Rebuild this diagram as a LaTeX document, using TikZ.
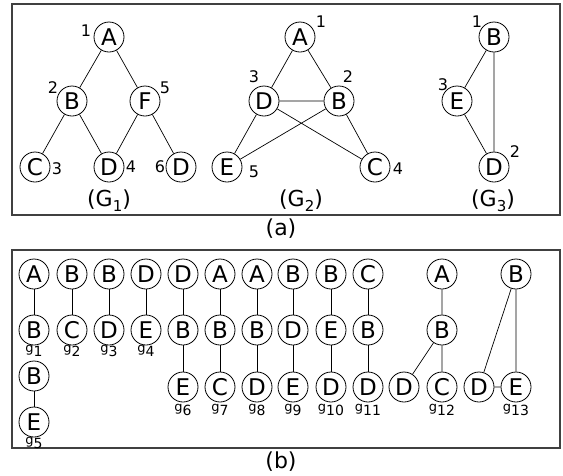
\documentclass[tikz,border=0pt]{standalone}
\usepackage{fontspec}
\setmainfont{DejaVu Sans}
\begin{document}
\begin{tikzpicture}[x=1pt,y=-1pt,
  vtx/.style={circle,draw,line width=0.8pt,minimum size=30pt,inner sep=0pt,font=\fontsize{23}{23}\selectfont},
  num/.style={font=\fontsize{16}{16}\selectfont,inner sep=0pt},
  glab/.style={font=\fontsize{22}{22}\selectfont,inner sep=0pt},
  slab/.style={font=\fontsize{13}{13}\selectfont,inner sep=0pt},
  edge/.style={line width=0.7pt},
  frame/.style={draw=black!75,line width=1.2pt}]
\useasboundingbox (0,0) rectangle (563,475);
\draw[frame] (12,4) rectangle (560,215);
\draw[frame] (12,250) rectangle (560,448);
\newcommand{\gsub}[1]{g\raisebox{-0.5ex}{\fontsize{14}{14}\selectfont #1}}
\newcommand{\Gsub}[1]{(G\raisebox{-0.4ex}{\fontsize{15}{15}\selectfont #1})}
% G1
\node[vtx] (a1) at (109,37) {A};
\node[vtx] (b1) at (72,101) {B};
\node[vtx] (f1) at (145,101) {F};
\node[vtx] (c1) at (35,167) {C};
\node[vtx] (d1) at (109,167) {D};
\node[vtx] (e1) at (181,167) {D};
\draw[edge] (a1)--(b1) (a1)--(f1) (b1)--(c1) (b1)--(d1) (f1)--(d1) (f1)--(e1);
\node[num] (n11) at (86,31) {1};
\node[num] (n12) at (53,88) {2};
\node[num] (n15) at (165,88) {5};
\node[num] (n13) at (57,169) {3};
\node[num] (n14) at (131,167) {4};
\node[num] (n16) at (160,167) {6};
\node[glab] (lg1) at (109,201) {\Gsub{1}};
% G2
\node[vtx] (a2) at (300,37) {A};
\node[vtx] (b2) at (339,101) {B};
\node[vtx] (d2) at (264,101) {D};
\node[vtx] (e2) at (227,167) {E};
\node[vtx] (c2) at (375,167) {C};
\draw[edge] (a2)--(d2) (a2)--(b2) (d2)--(b2) (d2)--(c2) (e2)--(b2) (d2)--(e2) (b2)--(c2);
\node[num] (n21) at (321,22) {1};
\node[num] (n22) at (348,77) {2};
\node[num] (n23) at (254,77) {3};
\node[num] (n25) at (254,172) {5};
\node[num] (n24) at (398,169) {4};
\node[glab] (lg2) at (301,201) {\Gsub{2}};
% G3
\node[vtx] (b3) at (494,37) {B};
\node[vtx] (e3) at (457,101) {E};
\node[vtx] (d3) at (494,167) {D};
\draw[edge] (b3)--(e3) (b3)--(d3) (e3)--(d3);
\node[num] (n31) at (477,22) {1};
\node[num] (n33) at (443,85) {3};
\node[num] (n32) at (515,152) {2};
\node[glab] (lg3) at (493,201) {\Gsub{3}};
\node[glab] (la) at (281,229) {(a)};
% (b)
\node[vtx] (p1a) at (34,274) {A}; \node[vtx] (p1b) at (34,330) {B};
\draw[edge] (p1a)--(p1b); \node[slab] (l1) at (34,351) {\gsub{1}};
\node[vtx] (p2a) at (72,274) {B}; \node[vtx] (p2b) at (72,330) {C};
\draw[edge] (p2a)--(p2b); \node[slab] (l2) at (72,351) {\gsub{2}};
\node[vtx] (p3a) at (109,274) {B}; \node[vtx] (p3b) at (109,330) {D};
\draw[edge] (p3a)--(p3b); \node[slab] (l3) at (109,351) {\gsub{3}};
\node[vtx] (p4a) at (146,274) {D}; \node[vtx] (p4b) at (146,330) {E};
\draw[edge] (p4a)--(p4b); \node[slab] (l4) at (146,351) {\gsub{4}};
\node[vtx] (p5a) at (34,376) {B}; \node[vtx] (p5b) at (34,422) {E};
\draw[edge] (p5a)--(p5b); \node[slab] (l5) at (34,443) {\gsub{5}};
\node[vtx] (p6a) at (183,274) {D}; \node[vtx] (p6b) at (183,330) {B}; \node[vtx] (p6c) at (183,387) {E};
\draw[edge] (p6a)--(p6b)--(p6c); \node[slab] (l6) at (183,410) {\gsub{6}};
\node[vtx] (p7a) at (220,274) {A}; \node[vtx] (p7b) at (220,330) {B}; \node[vtx] (p7c) at (220,387) {C};
\draw[edge] (p7a)--(p7b)--(p7c); \node[slab] (l7) at (220,410) {\gsub{7}};
\node[vtx] (p8a) at (257,274) {A}; \node[vtx] (p8b) at (257,330) {B}; \node[vtx] (p8c) at (257,387) {D};
\draw[edge] (p8a)--(p8b)--(p8c); \node[slab] (l8) at (257,410) {\gsub{8}};
\node[vtx] (p9a) at (293,274) {B}; \node[vtx] (p9b) at (293,330) {D}; \node[vtx] (p9c) at (293,387) {E};
\draw[edge] (p9a)--(p9b)--(p9c); \node[slab] (l9) at (293,410) {\gsub{9}};
\node[vtx] (p10a) at (331,274) {B}; \node[vtx] (p10b) at (331,330) {E}; \node[vtx] (p10c) at (331,387) {D};
\draw[edge] (p10a)--(p10b)--(p10c); \node[slab] (l10) at (331,410) {\gsub{10}};
\node[vtx] (p11a) at (368,274) {C}; \node[vtx] (p11b) at (368,330) {B}; \node[vtx] (p11c) at (368,387) {D};
\draw[edge] (p11a)--(p11b)--(p11c); \node[slab] (l11) at (368,410) {\gsub{11}};
\node[vtx] (p12a) at (442,274) {A}; \node[vtx] (p12b) at (442,330) {B}; \node[vtx] (p12c) at (404,387) {D}; \node[vtx] (p12d) at (442,387) {C};
\draw[edge] (p12a)--(p12b) (p12b)--(p12c) (p12b)--(p12d); \node[slab] (l12) at (442,410) {\gsub{12}};
\node[vtx] (p13a) at (516,274) {B}; \node[vtx] (p13b) at (479,387) {D}; \node[vtx] (p13c) at (516,387) {E};
\draw[edge] (p13a)--(p13b) (p13a)--(p13c) (p13b)--(p13c); \node[slab] (l13) at (516,410) {\gsub{13}};
\node[glab] (lb) at (281,462) {(b)};
\end{tikzpicture}
\end{document}
